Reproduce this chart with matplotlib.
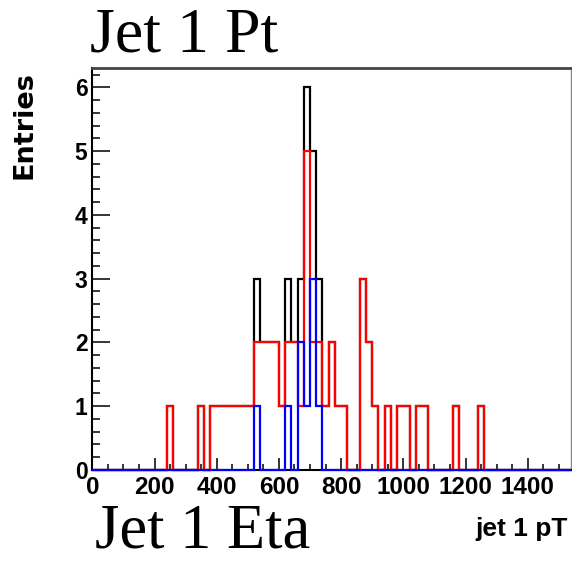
import numpy as np
import matplotlib
matplotlib.use('Agg')
import matplotlib.pyplot as plt
from matplotlib.ticker import MultipleLocator

# histogram binning (20 GeV bins)
bin_edges = np.arange(0, 1541, 20)

# red histogram: left edge of filled bin -> entries
red_bins = [240, 340, 380, 400, 420, 440, 460, 480, 500, 520, 540, 560, 580, 600,
            620, 640, 660, 680, 700, 720, 740, 760, 780, 800, 860, 880, 900, 940,
            980, 1000, 1040, 1060, 1160, 1240]
red_counts = [1, 1, 1, 1, 1, 1, 1, 1, 1, 2, 2, 2, 2, 1,
              2, 2, 1, 5, 2, 2, 1, 2, 1, 1, 3, 2, 1, 1,
              1, 1, 1, 1, 1, 1]

# blue histogram
blue_bins = [520, 620, 660, 680, 700, 720]
blue_counts = [1, 1, 2, 1, 3, 1]


def fill(bins, counts):
    h = np.zeros(len(bin_edges) - 1)
    for b, c in zip(bins, counts):
        h[int(np.searchsorted(bin_edges, b))] = c
    return h


red = fill(red_bins, red_counts)
blue = fill(blue_bins, blue_counts)
black = red + blue      # black = sum of both

W, H = 572, 563
fig = plt.figure(figsize=(W / 100, H / 100), dpi=100)
ax = fig.add_axes([92.3 / W, 1 - 470 / H, (571.3 - 92.3) / W, (470 - 68.3) / H])

ax.stairs(black, bin_edges, color='black', lw=1.6, zorder=3, clip_on=False)
ax.stairs(red, bin_edges, color='#ff0000', lw=1.6, zorder=4, clip_on=False)
ax.stairs(blue, bin_edges, color='#0000ff', lw=1.6, zorder=5, clip_on=False)

ax.set_xlim(0, 1540)
ax.set_ylim(0, 6.3)

ax.xaxis.set_major_locator(MultipleLocator(200))
ax.xaxis.set_minor_locator(MultipleLocator(50))
ax.yaxis.set_major_locator(MultipleLocator(1))
ax.yaxis.set_minor_locator(MultipleLocator(0.2))
ax.set_xticks(np.arange(0, 1401, 200))

ax.tick_params(axis='x', which='major', direction='in', length=8.6, width=1.1,
               pad=4, labelsize=17.5, top=False)
ax.tick_params(axis='x', which='minor', direction='in', length=4.3, width=1.1, top=False)
ax.tick_params(axis='y', which='major', direction='in', length=13, width=1.1,
               pad=3.5, labelsize=16.5, right=False)
ax.tick_params(axis='y', which='minor', direction='in', length=5.8, width=1.1, right=False)
for lab in ax.get_xticklabels() + ax.get_yticklabels():
    lab.set_family('Liberation Sans')
    lab.set_fontweight('bold')

ax.spines['left'].set_linewidth(1.5)
ax.spines['bottom'].set_linewidth(1.5)
ax.spines['top'].set_linewidth(2)
ax.spines['top'].set_color('#444444')
ax.spines['right'].set_linewidth(1)
ax.spines['right'].set_color('#888888')

fig.text(25 / W, 1 - 125 / H, 'Entries', rotation=90, ha='center', va='center',
         family='DejaVu Sans', fontweight='bold', fontsize=19.5)
fig.text(568 / W, 1 - 536 / H, 'jet 1 pT', ha='right', va='baseline',
         family='Liberation Sans', fontweight='bold', fontsize=19)
fig.text(90 / W, 1 - 52 / H, 'Jet 1 Pt', ha='left', va='baseline',
         family='Liberation Serif', fontsize=46)
fig.text(95 / W, 1 - 548 / H, 'Jet 1 Eta', ha='left', va='baseline',
         family='Liberation Serif', fontsize=45)

fig.savefig('out.png', dpi=100)
